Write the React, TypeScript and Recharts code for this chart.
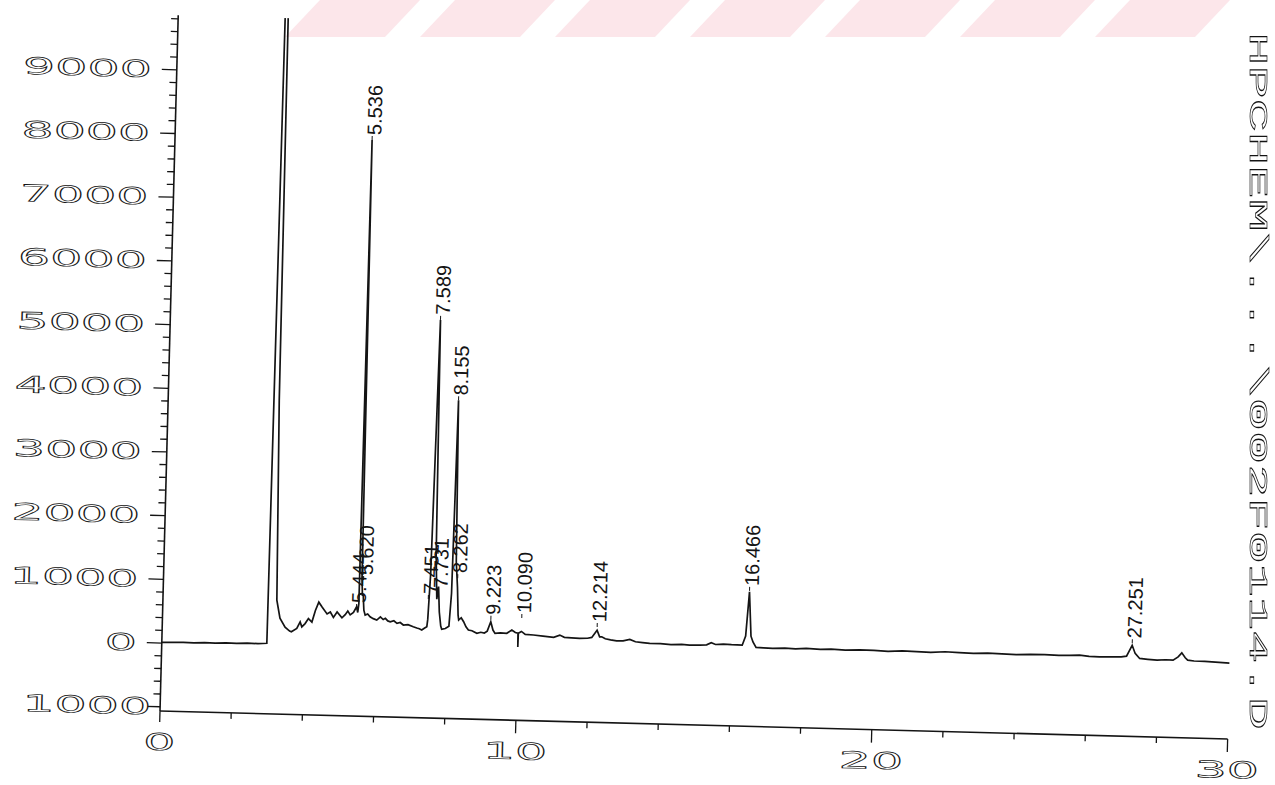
import React from 'react';
import { ComposedChart, Line, Scatter, XAxis, YAxis } from 'recharts';

// retention time (min) and detector response
const times = [
  0, 0.3, 0.6, 0.9, 1.2, 1.5, 1.8, 2.1, 2.4, 2.7, 2.95,
  3.02, 3.06, 3.09, 3.12, 3.2, 3.3, 3.45, 3.58, 3.63, 3.78, 3.87, 3.92,
  4.01, 4.1, 4.2, 4.29, 4.38, 4.48, 4.62, 4.71, 4.8, 4.9, 5.04, 5.13, 5.2, 5.27, 5.36,
  5.444, 5.48, 5.505, 5.536, 5.575, 5.6, 5.62, 5.65, 5.69, 5.76, 5.83, 5.92,
  6.02, 6.12, 6.2, 6.26, 6.33, 6.4, 6.5, 6.59, 6.68, 6.77, 6.9,
  7.05, 7.15, 7.22, 7.29, 7.36, 7.43, 7.451, 7.5, 7.589, 7.64, 7.69, 7.731, 7.77, 7.82, 7.85, 7.95,
  8.05, 8.1, 8.155, 8.21, 8.262, 8.3, 8.32, 8.39, 8.46, 8.53, 8.6, 8.7, 8.84, 8.95,
  9.05, 9.13, 9.223, 9.29, 9.35, 9.5, 9.68, 9.82, 9.92, 9.995, 10.0, 10.005,
  10.09, 10.2, 10.43, 10.7, 11.0, 11.17, 11.3, 11.5, 11.73, 11.95,
  12.07, 12.214, 12.29, 12.35, 12.45, 12.6, 12.77, 12.95, 13.14, 13.3, 13.5, 13.7,
  14.0, 14.3, 14.6, 14.82, 15.1, 15.3, 15.43, 15.55, 15.77, 16.0, 16.3, 16.39,
  16.466, 16.54, 16.6, 16.69, 16.9, 17.16, 17.5, 17.8, 18.1, 18.5, 18.8, 19.2, 19.6,
  20.0, 20.4, 20.8, 21.2, 21.6, 22.0, 22.4, 22.8, 23.2, 23.6, 24.0, 24.4, 24.8,
  25.2, 25.5, 25.78, 26.05, 26.34, 26.65, 26.95, 27.1, 27.16, 27.251, 27.34, 27.47,
  27.7, 27.96, 28.2, 28.41, 28.55, 28.65, 28.75, 28.82, 29.0, 29.3, 29.6, 29.9, 30.0,
];

const signal = [
  10, 15, 20, 15, 25, 20, 30, 25, 35, 30, 40,
  12500, 13000, 9900, 3860, 720, 440, 300, 240, 230, 284, 389, 311,
  364, 443, 391, 575, 706, 628, 524, 556, 473, 560, 470, 520, 580, 520, 560,
  650, 560, 700, 7980, 1100, 820, 850, 600, 522, 540, 497, 470,
  448, 500, 460, 480, 440, 428, 445, 406, 420, 382, 390,
  359, 340, 330, 312, 340, 365, 480, 1200, 5185, 1500, 800, 1000, 600, 380, 331, 345,
  380, 900, 3930, 1400, 1000, 560, 483, 520, 458, 380, 331, 320, 282, 300,
  290, 320, 470, 340, 288, 300, 295, 348, 310, 300, 84, 300,
  330, 285, 279, 265, 251, 288, 255, 250, 244, 250,
  265, 381, 277, 279, 250, 235, 221, 225, 249, 215, 205, 194,
  195, 185, 192, 185, 188, 195, 230, 205, 215, 208, 205, 350,
  1045, 350, 260, 175, 172, 167, 175, 170, 180, 172, 178, 171, 180,
  176, 168, 182, 175, 170, 185, 178, 172, 180, 175, 168, 178, 182,
  175, 180, 186, 172, 167, 172, 177, 190, 260, 364, 237, 160,
  150, 141, 150, 147, 200, 265, 190, 153, 142, 140, 132, 127, 125,
];

// integrator peak annotations
const peakLabels = ['5.444', '5.536', '5.620', '7.451', '7.589', '7.731', '8.155', '8.262', '9.223', '10.090', '12.214', '16.466', '27.251'];
const peakTimes = [5.444, 5.536, 5.62, 7.451, 7.589, 7.731, 8.155, 8.262, 9.223, 10.09, 12.214, 16.466, 27.251];
const peakLevels = [630, 7980, 1070, 800, 5185, 900, 3930, 1140, 500, 540, 430, 1060, 395];

const yTickValues = [-1000, 0, 1000, 2000, 3000, 4000, 5000, 6000, 7000, 8000, 9000];
const yTickLabels = ['1000', '0', '1000', '2000', '3000', '4000', '5000', '6000', '7000', '8000', '9000'];
const xTickValues = [0, 10, 20, 30];
const xTickLabels = ['0', '10', '20', '30'];
const fileLabel = 'HPCHEM\\...\\002F0114.D';

const trace = times.map((t, i) => ({ t, v: signal[i] }));
const peaks = peakTimes.map((t, i) => ({ t, v: peakLevels[i], label: peakLabels[i] }));

const minorY: number[] = [];
for (let v = -1000; v <= 9800; v += 200) minorY.push(v);
const minorX: number[] = [];
for (let t = 0; t <= 30; t += 2) minorX.push(t);

const ink = '#141414';
const plotterText = {
  fontFamily: "'DejaVu Sans', sans-serif",
  fontSize: 23,
  fill: '#fff',
  stroke: ink,
  strokeWidth: 1.1,
  vectorEffect: 'non-scaling-stroke' as const,
};

const YTick = (props: any) => {
  const { x, y, payload } = props;
  const idx = yTickValues.indexOf(payload.value);
  const major = idx >= 0;
  const tx = payload.value === -1000 ? x - 9 : x - 25;
  return (
    <g>
      <line x1={x - (major ? 15 : 7)} x2={x} y1={y} y2={y} stroke={ink} strokeWidth={1.3} />
      {major && (
        <text transform={`translate(${tx},${y}) scale(2.2,1)`} textAnchor="end" dominantBaseline="central" {...plotterText}>
          {yTickLabels[idx]}
        </text>
      )}
    </g>
  );
};

const XTick = (props: any) => {
  const { x, y, payload } = props;
  const idx = xTickValues.indexOf(payload.value);
  const major = idx >= 0;
  return (
    <g>
      <line x1={x} x2={x} y1={y} y2={y + (payload.value === 0 ? 11 : major ? 13 : 6)} stroke={ink} strokeWidth={1.3} />
      {major && (
        <text transform={`translate(${x},${y + 31}) scale(2.2,1)`} textAnchor="middle" dominantBaseline="central" {...plotterText}>
          {xTickLabels[idx]}
        </text>
      )}
    </g>
  );
};

const PeakLabel = (props: any) => {
  const { cx, cy, payload } = props;
  if (cx == null || cy == null) return <g />;
  return (
    <g>
      <line x1={cx} x2={cx} y1={cy} y2={cy - 4} stroke={ink} strokeWidth={1} />
      <text
        transform={`translate(${cx + 2},${cy - 5}) rotate(-90)`}
        dominantBaseline="central"
        fontFamily="'Liberation Sans', Arial, sans-serif"
        fontSize={20}
        fill={ink}
      >
        {payload.label}
      </text>
    </g>
  );
};

const bands = [0, 1, 2, 3, 4, 5, 6];

export default function App() {
  return (
    <div style={{ position: 'absolute', left: 0, top: 0, width: 1275, height: 785, overflow: 'hidden', background: '#fff' }}>
      <svg width={1275} height={40} style={{ position: 'absolute', left: 0, top: 0 }}>
        {bands.map((k) => (
          <polygon
            key={k}
            points={`${285 + 135 * k},37 ${385 + 135 * k},37 ${420 + 135 * k},0 ${320 + 135 * k},0`}
            fill="#fce6ea"
          />
        ))}
      </svg>
      <div style={{ position: 'absolute', left: 0, top: 0, width: 1275, height: 785, transform: 'rotate(1.5deg)', transformOrigin: '160px 711px' }}>
        <ComposedChart width={1275} height={785} data={trace} margin={{ top: 15, right: 47, bottom: 0, left: 100 }}>
          <XAxis
            type="number"
            dataKey="t"
            domain={[0, 30]}
            ticks={minorX}
            interval={0}
            tick={<XTick />}
            tickLine={false}
            tickSize={0}
            tickMargin={0}
            height={74}
            axisLine={{ stroke: ink, strokeWidth: 1.6 }}
            allowDataOverflow
          />
          <YAxis
            type="number"
            domain={[-1067, 9857]}
            ticks={minorY}
            interval={0}
            tick={<YTick />}
            tickLine={false}
            tickSize={0}
            tickMargin={0}
            width={60}
            axisLine={{ stroke: ink, strokeWidth: 1.6 }}
            allowDataOverflow
          />
          <Line type="linear" dataKey="v" stroke={ink} strokeWidth={1.7} dot={false} activeDot={false} isAnimationActive={false} />
          <Scatter data={peaks} dataKey="v" shape={PeakLabel} isAnimationActive={false} />
        </ComposedChart>
      </div>
      <svg width={1275} height={785} style={{ position: 'absolute', left: 0, top: 0, filter: 'grayscale(1)' }}>
        <text
          transform="translate(1250,730) rotate(90) scale(2.13,1)"
          textAnchor="end"
          fontFamily="'Liberation Mono', 'DejaVu Sans Mono', monospace"
          fontSize={26}
          fill="#fff"
          stroke={ink}
          strokeWidth={1.1}
          style={{ vectorEffect: 'non-scaling-stroke' }}
        >
          {fileLabel}
        </text>
      </svg>
    </div>
  );
}
